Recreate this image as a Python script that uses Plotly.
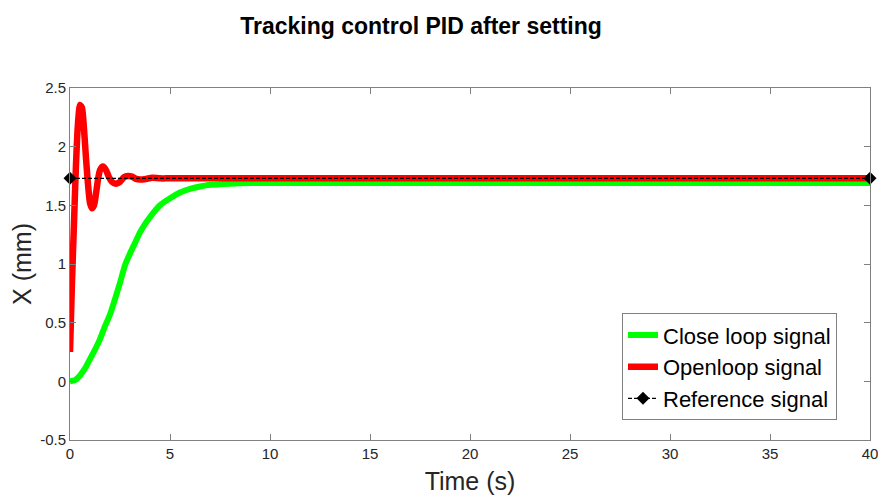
import plotly.graph_objects as go

# Openloop signal (red)
t_open = [0, 0.1, 0.2, 0.3, 0.4, 0.5, 0.6, 0.7, 0.8, 0.9, 1.0, 1.1, 1.2, 1.3, 1.4, 1.5,
          1.65, 1.8, 1.95, 2.1, 2.3, 2.5, 2.7, 2.9, 3.1, 3.3, 3.5, 3.8, 4.1, 4.5, 5.0, 40]
x_open = [0.25, 0.85, 1.35, 1.85, 2.2, 2.355, 2.33, 2.15, 1.9, 1.68, 1.52, 1.475, 1.5, 1.6,
          1.72, 1.8, 1.83, 1.8, 1.74, 1.70, 1.685, 1.70, 1.74, 1.75, 1.745, 1.725, 1.72,
          1.725, 1.735, 1.73, 1.73, 1.73]

# Close loop signal (green)
t_close = [0, 0.25, 0.5, 0.75, 1.0, 1.25, 1.5, 1.75, 2.0, 2.25, 2.5, 2.75, 3.0, 3.25, 3.5,
           3.75, 4.0, 4.5, 5.0, 5.5, 6.0, 6.5, 7.0, 8.0, 9.0, 40]
x_close = [0, 0.01, 0.05, 0.11, 0.19, 0.27, 0.36, 0.47, 0.57, 0.70, 0.84, 0.99, 1.09, 1.18,
           1.27, 1.34, 1.40, 1.50, 1.56, 1.61, 1.64, 1.66, 1.675, 1.685, 1.69, 1.69]

# Reference signal
t_ref = [0, 40]
x_ref = [1.73, 1.73]

x_ticks = [0, 5, 10, 15, 20, 25, 30, 35, 40]
y_ticks = [-0.5, 0, 0.5, 1, 1.5, 2, 2.5]
y_tick_text = ["-0.5", "0", "0.5", "1", "1.5", "2", "2.5"]

FONT = "Liberation Sans, Arial, sans-serif"

# page body has an 8px margin, so the figure is drawn 8px in from the window edge
W, H = 878, 489

fig = go.Figure()
fig.add_trace(go.Scatter(x=t_close, y=x_close, mode="lines", name="Close loop signal",
                         line=dict(color="#00ff00", width=6, shape="spline", smoothing=0.6)))
fig.add_trace(go.Scatter(x=t_open, y=x_open, mode="lines", name="Openloop signal",
                         line=dict(color="#ff0000", width=6.5, shape="spline", smoothing=0.6)))
fig.add_trace(go.Scatter(x=t_ref, y=x_ref, mode="lines+markers", name="Reference signal",
                         line=dict(color="black", width=1.3, dash="4px,2px"),
                         marker=dict(symbol="diamond", size=10, color="black"),
                         cliponaxis=False))

axis_common = dict(showline=True, linecolor="#808080", linewidth=1, mirror="ticks",
                   ticks="inside", ticklen=6, tickcolor="#808080", showgrid=False,
                   zeroline=False, automargin=False,
                   tickfont=dict(family=FONT, size=15, color="#262626"))

fig.update_layout(
    width=W, height=H,
    paper_bgcolor="white", plot_bgcolor="white",
    margin=dict(l=62, r=16, t=80, b=57, autoexpand=False),
    font=dict(family=FONT, color="#262626"),
    title=dict(text="<b>Tracking control PID after setting</b>", x=413 / W, xanchor="center",
               xref="container", yref="container",
               y=1 - 18 / H, yanchor="middle", font=dict(family=FONT, size=23, color="black")),
    xaxis=dict(range=[0, 40], tickvals=x_ticks, title=dict(text="Time (s)", standoff=11,
               font=dict(family=FONT, size=25, color="#262626")), **axis_common),
    yaxis=dict(range=[-0.5, 2.5], tickvals=y_ticks, ticktext=y_tick_text,
               title=dict(text="X (mm)", standoff=5, font=dict(family=FONT, size=25, color="#262626")),
               **axis_common),
    legend=dict(x=0.69, y=0.36, xanchor="left", yanchor="top", bgcolor="white",
                bordercolor="#808080", borderwidth=1, itemwidth=30, tracegroupgap=0,
                font=dict(family=FONT, size=22, color="black")),
    showlegend=True,
)

fig.write_html("out.html")
